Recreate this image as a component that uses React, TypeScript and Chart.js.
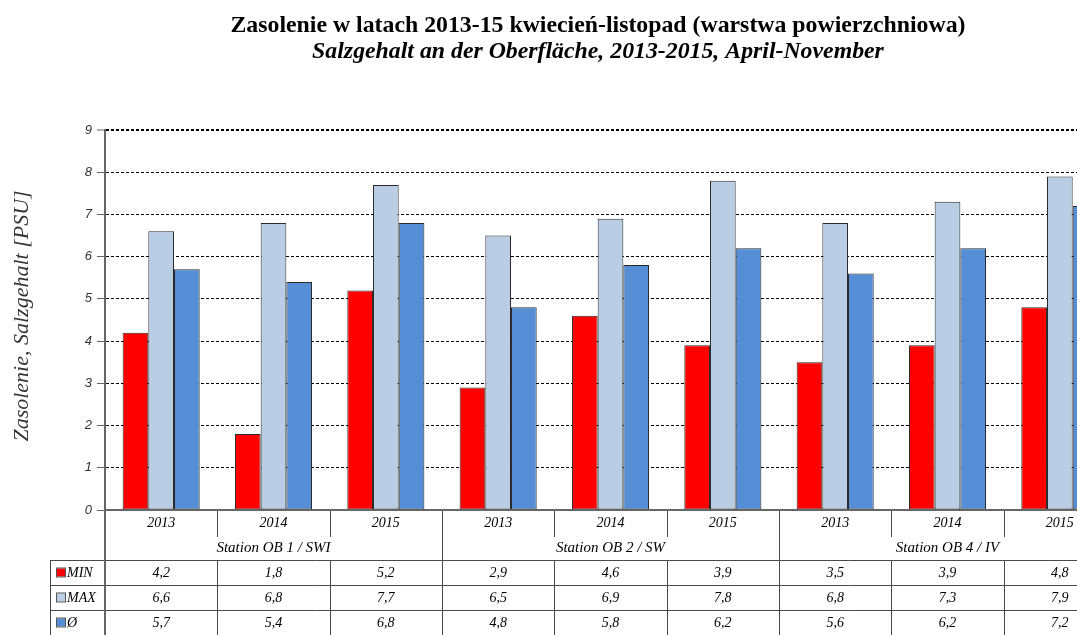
import React, { useEffect, useRef } from 'react';
import { Chart, registerables } from 'chart.js';

Chart.register(...registerables);

const years = ['2013', '2014', '2015', '2013', '2014', '2015', '2013', '2014', '2015'];
const stations = ['Station OB 1 / SWI', 'Station OB 2 / SW', 'Station OB 4 / IV'];
const minValues = [4.2, 1.8, 5.2, 2.9, 4.6, 3.9, 3.5, 3.9, 4.8];
const maxValues = [6.6, 6.8, 7.7, 6.5, 6.9, 7.8, 6.8, 7.3, 7.9];
const avgValues = [5.7, 5.4, 6.8, 4.8, 5.8, 6.2, 5.6, 6.2, 7.2];
const seriesNames = ['MIN', 'MAX', 'Ø'];
const seriesColors = ['#FF0000', '#B9CDE5', '#558ED5'];
const titleLine1 = 'Zasolenie w latach 2013-15 kwiecień-listopad (warstwa powierzchniowa)';
const titleLine2 = 'Salzgehalt an der Oberfläche, 2013-2015, April-November';
const yAxisTitle = 'Zasolenie, Salzgehalt [PSU]';
const yMin = 0;
const yMax = 9;

const W = 1130;
const H = 635;

const fmt = (v: number) => v.toFixed(1).replace('.', ',');

const textPlugin = {
  id: 'customTexts',
  afterDraw(chart: any) {
    const { ctx, chartArea, scales } = chart;
    const xs = scales.x;
    const n = years.length;
    const step = (chartArea.right - chartArea.left) / n;
    const top = chartArea.bottom;
    const rowH = 25;
    const legendLeft = 50;
    const lineColor = '#4a4a4a';

    ctx.save();
    // Titles
    ctx.fillStyle = '#000';
    ctx.textAlign = 'center';
    ctx.textBaseline = 'middle';
    ctx.font = 'bold 23.8px "Liberation Serif", serif';
    ctx.fillText(titleLine1, 598, 26);
    ctx.font = 'italic bold 23.8px "Liberation Serif", serif';
    ctx.fillText(titleLine2, 598, 52);

    // Y axis title
    ctx.save();
    ctx.translate(22, 316);
    ctx.rotate(-Math.PI / 2);
    ctx.font = 'italic 22px "Liberation Serif", serif';
    ctx.fillStyle = '#333';
    ctx.fillText(yAxisTitle, 0, 0);
    ctx.restore();

    // Table lines
    ctx.strokeStyle = lineColor;
    ctx.lineWidth = 1;
    const hline = (x1: number, x2: number, y: number) => {
      ctx.beginPath();
      ctx.moveTo(x1, y + 0.5);
      ctx.lineTo(x2, y + 0.5);
      ctx.stroke();
    };
    const vline = (x: number, y1: number, y2: number) => {
      ctx.beginPath();
      ctx.moveTo(Math.round(x) + 0.5, y1);
      ctx.lineTo(Math.round(x) + 0.5, y2);
      ctx.stroke();
    };
    for (let r = 2; r <= 4; r++) hline(legendLeft, chartArea.right, top + r * rowH);
    vline(legendLeft, top + 2 * rowH, H);
    for (let i = 1; i <= n; i++) {
      const bx = chartArea.left + i * step;
      if (i % 3 === 0) {
        vline(bx, top, H);
      } else {
        vline(bx, top, top + rowH + 2);
        vline(bx, top + 2 * rowH, H);
      }
    }
    ctx.strokeStyle = '#666';
    ctx.lineWidth = 2;
    ctx.beginPath();
    ctx.moveTo(chartArea.left, top);
    ctx.lineTo(chartArea.right, top);
    ctx.stroke();
    ctx.beginPath();
    ctx.moveTo(chartArea.left, top);
    ctx.lineTo(chartArea.left, H);
    ctx.stroke();

    // Texts
    ctx.fillStyle = '#000';
    ctx.textAlign = 'center';
    ctx.font = 'italic 14px "Liberation Serif", serif';
    const rows = [minValues, maxValues, avgValues];
    for (let i = 0; i < n; i++) {
      const cx = xs.getPixelForValue(i);
      ctx.fillText(years[i], cx, top + rowH / 2 + 1);
      rows.forEach((vals, r) => {
        ctx.fillText(fmt(vals[i]), cx, top + (2 + r) * rowH + rowH / 2 + 1);
      });
    }
    ctx.font = 'italic 15px "Liberation Serif", serif';
    stations.forEach((s, k) => {
      const cx = chartArea.left + (k * 3 + 1.5) * step;
      ctx.fillText(s, cx, top + rowH + rowH / 2 + 1);
    });

    // Legend keys
    ctx.textAlign = 'left';
    ctx.font = 'italic 14px "Liberation Serif", serif';
    seriesNames.forEach((name, r) => {
      const cy = top + (2 + r) * rowH + rowH / 2;
      ctx.fillStyle = seriesColors[r];
      ctx.fillRect(57, cy - 4, 8, 8);
      ctx.lineWidth = 1;
      ctx.strokeStyle = '#555';
      ctx.strokeRect(56.5, cy - 4.5, 9, 9);
      ctx.fillStyle = '#000';
      ctx.fillText(name, 67, cy + 1);
    });
    ctx.restore();
  },
};

export default function App() {
  const ref = useRef<HTMLCanvasElement | null>(null);
  useEffect(() => {
    if (!ref.current) return;
    const chart = new Chart(ref.current, {
      type: 'bar',
      data: {
        labels: years.map((y, i) => `${y}-${i}`),
        datasets: [minValues, maxValues, avgValues].map((vals, i) => ({
          label: seriesNames[i],
          data: vals,
          backgroundColor: seriesColors[i],
          borderColor: '#2a2a2a',
          borderWidth: 1,
          borderSkipped: false,
          categoryPercentage: 0.686,
          barPercentage: 1,
        })),
      },
      options: {
        responsive: false,
        animation: false,
        devicePixelRatio: 1,
        layout: { padding: { top: 130, bottom: 125, left: 0, right: 14 } },
        plugins: {
          legend: { display: false },
          tooltip: { enabled: false },
          title: { display: false },
        },
        scales: {
          x: { display: false },
          y: {
            min: yMin,
            max: yMax,
            afterFit: (scale: any) => {
              scale.width = 105;
            },
            ticks: {
              stepSize: 1,
              padding: 5,
              color: '#333',
              font: { family: '"Liberation Sans", Arial, sans-serif', size: 13, style: 'italic' },
            },
            border: { display: true, color: '#666', width: 2, dash: [3, 2] },
            grid: {
              color: (c: any) => (c.tick && c.tick.value === 0 ? 'rgba(0,0,0,0)' : '#000'),
              lineWidth: (c: any) => (c.tick && c.tick.value === yMax ? 2 : 1),
              tickBorderDash: [],
              tickLength: 8,
              tickColor: '#666',
              tickWidth: 1,
            },
          },
        },
      },
      plugins: [textPlugin],
    } as any);
    return () => chart.destroy();
  }, []);
  return (
    <div style={{ position: 'absolute', left: 0, top: 0, width: 1077, height: 635, overflow: 'hidden', background: '#fff' }}>
      <canvas ref={ref} width={W} height={H} style={{ width: W, height: H, display: 'block' }} />
    </div>
  );
}
